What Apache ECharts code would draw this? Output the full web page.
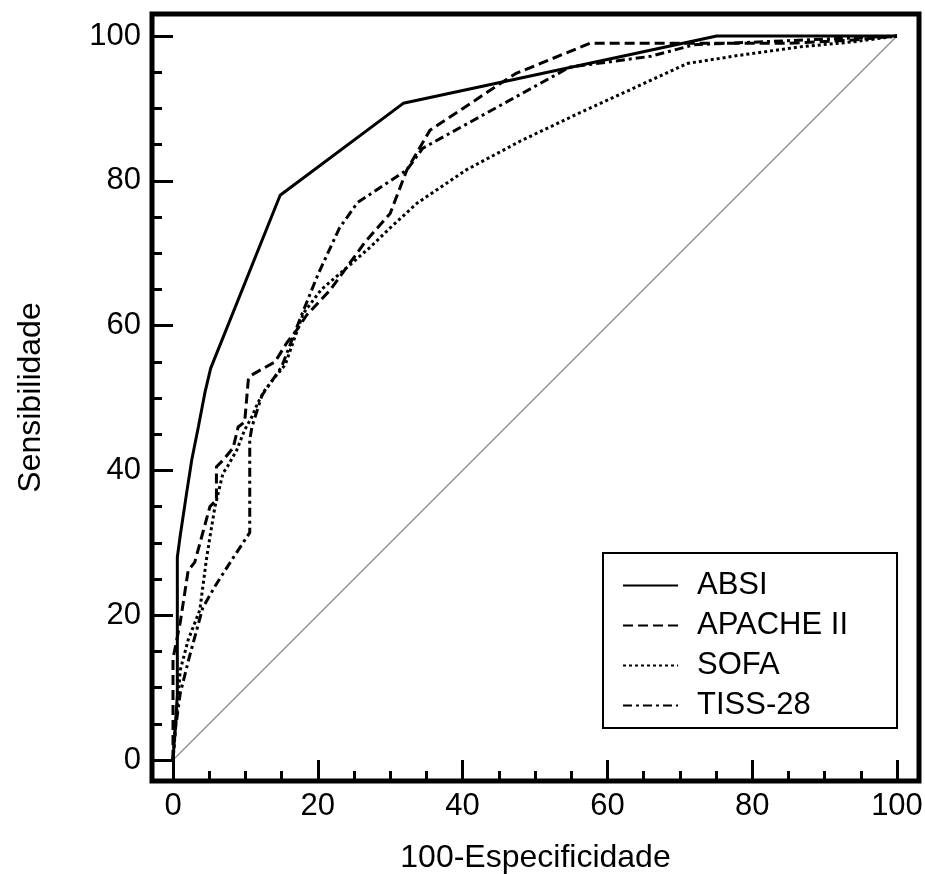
<!DOCTYPE html>
<html>
<head>
<meta charset="utf-8">
<script src="https://cdn.jsdelivr.net/npm/echarts@6/dist/echarts.min.js"></script>
<style>
html,body{margin:0;padding:0;background:#fff;}
#chart{width:925px;height:874px;}
</style>
</head>
<body>
<div id="chart"></div>
<script>
// ---- data ----
const seriesNames = ['ABSI', 'APACHE II', 'SOFA', 'TISS-28'];
const tickValues = [0, 20, 40, 60, 80, 100];
const minorTickValues = [5, 10, 15, 25, 30, 35, 45, 50, 55, 65, 70, 75, 85, 90, 95];

const absiX = [0, 0.6, 0.6, 1.0, 1.9, 2.6, 3.5, 4.4, 5.2, 14.8, 31.8, 75.1, 100];
const absiY = [0, 9, 28, 31, 37, 41.5, 46, 50.7, 54.1, 78, 90.7, 100, 100];

const apacheX = [0, 0, 1.0, 2.1, 3.0, 5.1, 6.0, 6.0, 6.9, 8.3, 9.0, 9.9, 10.4, 10.9, 14.1, 15.7, 17.1, 18.5, 21.7, 26.5, 30.0, 32.3, 35.5, 47.3, 57.6, 85, 93.5, 100];
const apacheY = [0, 14, 19, 26.2, 27.3, 35.0, 35.9, 40.5, 41.4, 43.1, 46.0, 46.7, 52.5, 53.2, 55.0, 57.6, 59.4, 61.5, 64.9, 71.5, 75.5, 81.5, 87.0, 94.8, 99.0, 99.0, 99.4, 100];

const sofaX = [0, 1.0, 2.1, 3.7, 4.6, 5.1, 5.8, 6.9, 7.5, 8.8, 9.9, 10.9, 11.7, 12.7, 14.1, 15.5, 18.0, 20.5, 24.0, 27.2, 30.0, 33.7, 40.5, 48.0, 56.2, 63.0, 71.0, 78.0, 86.6, 94.0, 100];
const sofaY = [0, 12.4, 16.6, 20.7, 27.6, 30.8, 35.0, 39.6, 40.5, 42.8, 45.6, 47.4, 49.3, 51.1, 52.9, 54.6, 61.7, 65.0, 68.0, 70.8, 73.5, 76.9, 81.5, 85.5, 89.4, 92.5, 96.2, 97.3, 98.5, 99.2, 100];

const tissX = [0, 0.3, 1.0, 2.2, 4.1, 5.8, 8.1, 10.2, 10.6, 10.6, 10.9, 12.3, 15.0, 17.5, 20.0, 23.0, 25.5, 32.3, 34.5, 54.8, 66.0, 72.0, 100];
const tissY = [0, 4, 9.2, 14, 21, 24, 27.6, 30.8, 31.4, 44.2, 46, 50.4, 54.3, 60.8, 67.0, 73.5, 77, 81.5, 84.5, 95.7, 97.2, 98.8, 100];

const refX = [0, 100];
const refY = [0, 100];

// axis extent (the frame lies a little outside 0..100)
const axisMin = -2.9;
const axisMax = 103.04;

function pairs(xs, ys) { return xs.map((x, i) => [x, ys[i]]); }

const chart = echarts.init(document.getElementById('chart'), null, {renderer: 'canvas'});
const FONT = 'Liberation Sans, Arial, sans-serif';

function majorAxis(extra) {
  return Object.assign({
    type: 'value', min: axisMin, max: axisMax, gridIndex: 0,
    axisLine: {show: false, onZero: false},
    axisTick: {show: true, inside: true, length: 21, customValues: tickValues,
               lineStyle: {color: '#000', width: 3}},
    splitLine: {show: false},
    nameLocation: 'middle',
    nameTextStyle: {color: '#000', fontSize: 32, fontFamily: FONT}
  }, extra);
}
function minorAxis(extra) {
  return Object.assign({
    type: 'value', min: axisMin, max: axisMax, gridIndex: 0,
    axisLine: {show: false, onZero: false},
    axisTick: {show: true, inside: true, length: 10, customValues: minorTickValues,
               lineStyle: {color: '#000', width: 3}},
    splitLine: {show: false},
    axisLabel: {show: false}
  }, extra);
}

const option = {
  backgroundColor: '#fff',
  animation: false,
  grid: {left: 152, right: 6, top: 14, bottom: 93, containLabel: false, outerBoundsMode: 'none',
         show: true, borderColor: '#000', borderWidth: 5, backgroundColor: 'transparent'},
  xAxis: [
    majorAxis({position: 'bottom', name: '100-Especificidade', nameGap: 61,
               axisLabel: {color: '#000', fontSize: 31, fontFamily: FONT, customValues: tickValues, margin: 10}}),
    minorAxis({position: 'bottom'})
  ],
  yAxis: [
    majorAxis({position: 'left', name: 'Sensibilidade', nameGap: 105, nameRotate: 90,
               axisLabel: {color: '#000', fontSize: 31, fontFamily: FONT, customValues: tickValues, margin: 11}}),
    minorAxis({position: 'left'})
  ],
  legend: {
    data: seriesNames,
    orient: 'vertical',
    left: 603, top: 553,
    padding: [17, 49, 7, 19],
    itemGap: 9,
    itemWidth: 55, itemHeight: 14,
    borderColor: '#000', borderWidth: 2,
    itemStyle: {opacity: 0},
    textStyle: {color: '#000', fontSize: 31, fontFamily: FONT, padding: [0, 0, 0, 14]},
    selectedMode: false
  },
  series: [
    {name: 'reference', type: 'line', data: pairs(refX, refY), symbol: 'none',
     color: '#8c8c8c', lineStyle: {color: '#8c8c8c', width: 1.2}, z: 1, silent: true},
    {name: 'ABSI', type: 'line', data: pairs(absiX, absiY), symbol: 'none', color: '#000',
     lineStyle: {color: '#000', width: 3, type: 'solid'}, z: 5},
    {name: 'APACHE II', type: 'line', data: pairs(apacheX, apacheY), symbol: 'none', color: '#000',
     lineStyle: {color: '#000', width: 3, type: [10, 5]}, z: 4},
    {name: 'SOFA', type: 'line', data: pairs(sofaX, sofaY), symbol: 'none', color: '#000',
     lineStyle: {color: '#000', width: 3, type: [3, 3]}, z: 3},
    {name: 'TISS-28', type: 'line', data: pairs(tissX, tissY), symbol: 'none', color: '#000',
     lineStyle: {color: '#000', width: 3, type: [9, 4, 3, 4]}, z: 3}
  ]
};
chart.setOption(option);
</script>
</body>
</html>
